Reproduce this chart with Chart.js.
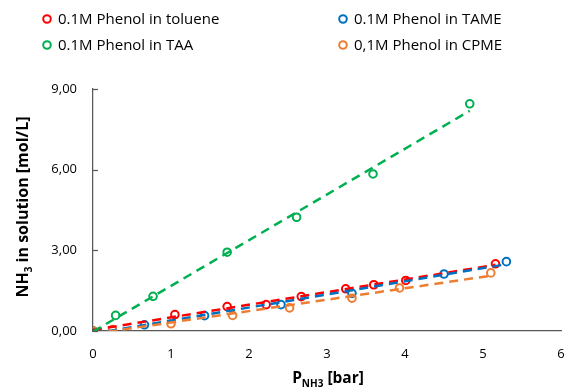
<!DOCTYPE html>
<html><head><meta charset="utf-8">
<script src="https://cdn.jsdelivr.net/npm/chart.js@4.4.0/dist/chart.umd.min.js"></script>
<style>html,body{margin:0;padding:0;background:#fff}canvas{display:block}</style>
</head><body>
<canvas id="c" width="567" height="389"></canvas>
<script>
const seriesLabels = ['0.1M Phenol in toluene', '0.1M Phenol in TAME', '0.1M Phenol in TAA', '0,1M Phenol in CPME'];
const seriesColors = ['#FF0000', '#0070C0', '#00B050', '#ED7D31'];

const tolueneX = [0, 1.05, 1.72, 2.22, 2.67, 3.24, 3.60, 4.01, 5.16];
const tolueneY = [0, 0.61, 0.91, 0.98, 1.28, 1.57, 1.72, 1.88, 2.50];
const tameX = [0, 0.66, 1.43, 2.41, 3.32, 4.50, 5.30];
const tameY = [0, 0.23, 0.57, 0.98, 1.40, 2.12, 2.58];
const taaX = [0, 0.29, 0.77, 1.72, 2.61, 3.59, 4.83];
const taaY = [0, 0.58, 1.29, 2.93, 4.23, 5.84, 8.45];
const cpmeX = [0, 0.25, 1.00, 1.79, 2.52, 3.32, 3.93, 5.10];
const cpmeY = [0, 0.05, 0.27, 0.58, 0.86, 1.22, 1.60, 2.16];

const xTicks = [0, 1, 2, 3, 4, 5, 6];
const yTicks = [0, 3, 6, 9];

const allX = [tolueneX, tameX, taaX, cpmeX];
const allY = [tolueneY, tameY, taaY, cpmeY];

function pts(xs, ys) { return xs.map((x, i) => ({x: x, y: ys[i]})); }
function fitLine(xs, ys) {
  const n = xs.length;
  let sx = 0, sy = 0, sxx = 0, sxy = 0;
  for (let i = 0; i < n; i++) { sx += xs[i]; sy += ys[i]; sxx += xs[i]*xs[i]; sxy += xs[i]*ys[i]; }
  const m = (n*sxy - sx*sy) / (n*sxx - sx*sx);
  const b = (sy - m*sx) / n;
  const x0 = Math.min(...xs), x1 = Math.max(...xs);
  return [{x: x0, y: m*x0 + b}, {x: x1, y: m*x1 + b}];
}

const FONT = '"Open Sans", sans-serif';
const datasets = [];
const markerOrder = [14, 13, 12, 11];
const trendOrder = [4, 3, 2, 1];
for (let i = 0; i < 4; i++) {
  datasets.push({
    label: seriesLabels[i], data: pts(allX[i], allY[i]), showLine: false,
    pointStyle: 'circle', pointRadius: 3.8, pointBorderWidth: 2,
    borderColor: seriesColors[i], backgroundColor: 'rgba(0,0,0,0)',
    pointBackgroundColor: 'rgba(0,0,0,0)', order: markerOrder[i]
  });
}
for (let i = 0; i < 4; i++) {
  datasets.push({
    label: 'trend' + i, data: fitLine(allX[i], allY[i]), showLine: true,
    borderColor: seriesColors[i], borderWidth: 2.5, borderDash: [9, 6],
    pointRadius: 0, fill: false, order: trendOrder[i]
  });
}

const decor = {
  id: 'decor',
  afterDraw(chart) {
    const ctx = chart.ctx, ca = chart.chartArea, ys = chart.scales.y;
    ctx.save();
    ctx.strokeStyle = '#595959'; ctx.lineWidth = 1.25;
    yTicks.forEach(v => {
      const py = Math.round(ys.getPixelForValue(v)) + 0.5;
      ctx.beginPath(); ctx.moveTo(ca.left, py); ctx.lineTo(ca.left + 5, py); ctx.stroke();
    });
    const lpos = [[47, 19], [343, 19], [47, 45], [343, 45]];
    ctx.font = '15px ' + FONT; ctx.textBaseline = 'middle'; ctx.textAlign = 'left';
    for (let i = 0; i < 4; i++) {
      const [lx, ly] = lpos[i];
      ctx.beginPath(); ctx.arc(lx, ly, 3.8, 0, Math.PI*2);
      ctx.strokeStyle = seriesColors[i]; ctx.lineWidth = 2; ctx.stroke();
      ctx.fillStyle = '#000'; ctx.fillText(seriesLabels[i], lx + 11, ly + 1);
    }
    ctx.fillStyle = '#000';
    const bold = 'bold 15.5px ' + FONT, sub = 'bold 10px ' + FONT;
    const parts = [['P', bold, 0], ['NH3', sub, 4], [' [bar]', bold, 0]];
    let w = 0; parts.forEach(p => { ctx.font = p[1]; w += ctx.measureText(p[0]).width; });
    let x = 328 - w/2; const by = 383;
    ctx.textBaseline = 'alphabetic';
    parts.forEach(p => { ctx.font = p[1]; ctx.fillText(p[0], x, by + p[2]); x += ctx.measureText(p[0]).width; });
    const bold2 = 'bold 16px ' + FONT, sub2 = 'bold 10px ' + FONT;
    const yparts = [['NH', bold2, 0], ['3', sub2, 4], [' in solution [mol/L]', bold2, 0]];
    w = 0; yparts.forEach(p => { ctx.font = p[1]; w += ctx.measureText(p[0]).width; });
    ctx.translate(28, 207); ctx.rotate(-Math.PI/2);
    x = -w/2;
    yparts.forEach(p => { ctx.font = p[1]; ctx.fillText(p[0], x, p[2]); x += ctx.measureText(p[0]).width; });
    ctx.restore();
  }
};

new Chart(document.getElementById('c'), {
  type: 'scatter',
  data: { datasets: datasets },
  options: {
    responsive: false, animation: false, devicePixelRatio: 1,
    layout: { padding: { top: 89, right: 5, left: 0, bottom: 0 } },
    plugins: { legend: { display: false }, tooltip: { enabled: false } },
    scales: {
      x: {
        type: 'linear', min: 0, max: 6,
        afterFit(s) { s.height = 58; s.paddingLeft = 0; s.paddingRight = 0; },
        afterBuildTicks(s) { s.ticks = xTicks.map(v => ({value: v})); },
        grid: { display: false, drawTicks: false },
        border: { display: true, color: '#595959', width: 1.25 },
        ticks: { padding: 15, color: '#000', font: { family: FONT, size: 13 }, callback: v => String(v) }
      },
      y: {
        type: 'linear', min: 0, max: 9,
        afterFit(s) { s.width = 93; s.paddingTop = 0; s.paddingBottom = 0; },
        afterBuildTicks(s) { s.ticks = yTicks.map(v => ({value: v})); },
        grid: { display: false, drawTicks: false },
        border: { display: true, color: '#595959', width: 1.25 },
        ticks: { padding: 16, color: '#000', font: { family: FONT, size: 13 }, callback: v => v.toFixed(2).replace('.', ',') }
      }
    }
  },
  plugins: [decor]
});
</script>
</body></html>
